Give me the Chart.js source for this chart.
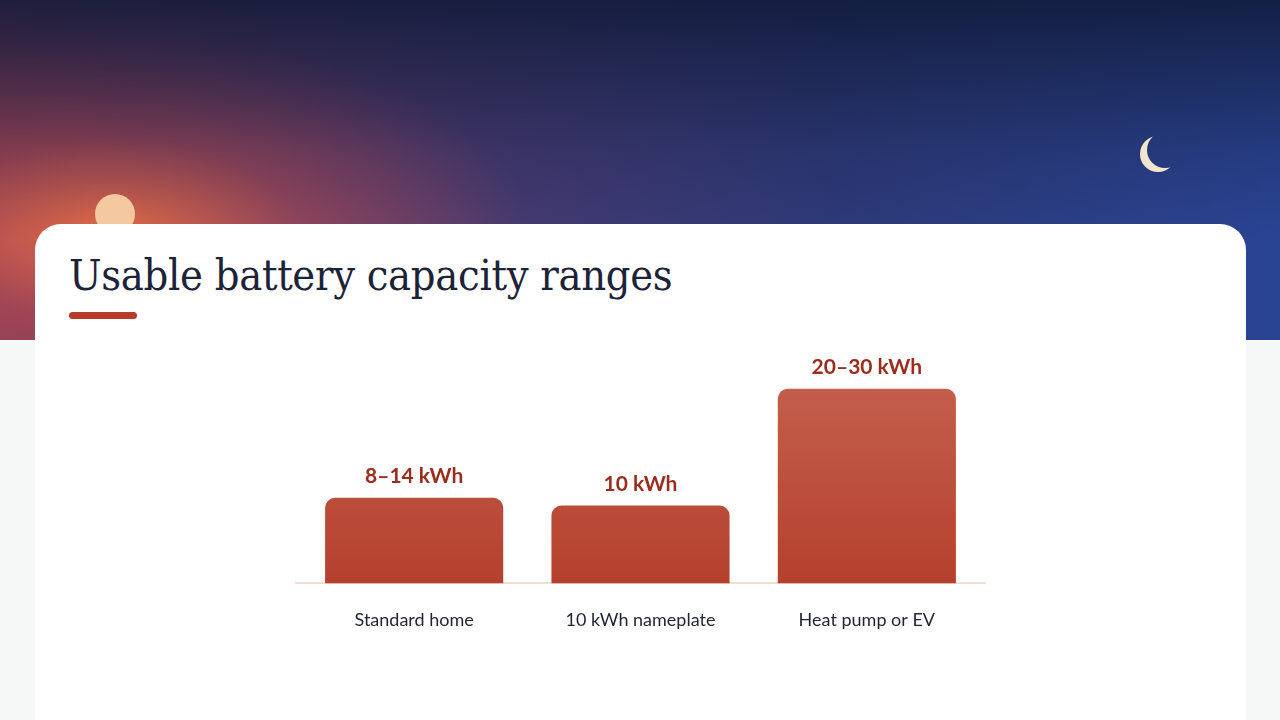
<!DOCTYPE html>
<html><head><meta charset="utf-8">
<script src="https://cdn.jsdelivr.net/npm/chart.js@4/dist/chart.umd.min.js"></script>
<style>
html,body{margin:0;width:1280px;height:720px;overflow:hidden;background:#f6f7f7;font-family:Lato,sans-serif}
#sky{position:absolute;left:0;top:0;width:1280px;height:340px;
background:radial-gradient(ellipse 420px 200px at 110px 230px,rgba(236,110,70,.95),rgba(200,80,80,.5) 45%,rgba(0,0,0,0) 100%),
linear-gradient(90deg,#7a3a5a 0%,#4a3a70 35%,#2e3a7a 65%,#2a4494 100%);}
#sky:before{content:"";position:absolute;inset:0;background:linear-gradient(180deg,rgba(15,25,55,.85) 0%,rgba(15,25,55,.2) 45%,rgba(0,0,0,0) 70%)}
#sun{position:absolute;left:95px;top:194px;width:40px;height:40px;border-radius:50%;background:#f4c9a0}
#moon{position:absolute;left:1147px;top:132px;width:36px;height:36px;border-radius:50%;box-shadow:-7px 4px 0 0 #f3e6cf}
#card{position:absolute;left:35px;top:224px;width:1211px;height:520px;background:#fff;border-radius:26px}
h1{position:absolute;left:69px;top:250px;margin:0;font:400 43px "DejaVu Serif Condensed","DejaVu Serif",serif;color:#1c2338;letter-spacing:-0.3px}
#bar{position:absolute;left:69px;top:312px;width:68px;height:7px;border-radius:4px;background:#b83a2b}
#wrap{position:absolute;left:301px;top:311px;width:679px;height:338px}
#axis{position:absolute;left:295px;top:582px;width:691px;height:2px;background:#f1ddd4}
</style></head><body>
<div id="sky"><div id="sun"></div><div id="moon"></div></div>
<div id="card"></div>
<h1>Usable battery capacity ranges</h1><div id="bar"></div>
<div id="axis"></div>
<div id="wrap"><canvas id="c"></canvas></div>
<script>
const categories=["Standard home","10 kWh nameplate","Heat pump or EV"];
const values=[11,10,25];
const valueLabels=["8–14 kWh","10 kWh","20–30 kWh"];
const labelPlugin={id:"vl",afterDatasetsDraw(ch){const c=ch.ctx;const m=ch.getDatasetMeta(0);
c.save();c.font="bold 21px Lato";c.fillStyle="#9a2d1e";c.textAlign="center";c.textBaseline="bottom";
m.data.forEach((b,i)=>c.fillText(valueLabels[i],b.x,b.y-11));c.restore();}};
new Chart(document.getElementById("c"),{type:"bar",
data:{labels:categories,datasets:[{data:values,
backgroundColor:(ctx)=>{const a=ctx.chart.chartArea;if(!a)return"#bd5040";const g=ctx.chart.ctx.createLinearGradient(0,a.top,0,a.bottom);g.addColorStop(0,"#c96a58");g.addColorStop(1,"#b5402d");return g;},
borderRadius:{topLeft:10,topRight:10},borderSkipped:"bottom",categoryPercentage:0.787,barPercentage:1}]},
options:{responsive:true,maintainAspectRatio:false,animation:false,
layout:{padding:0},
plugins:{legend:{display:false},tooltip:{enabled:false}},
scales:{y:{display:false,min:0,max:35},
x:{grid:{display:false},border:{display:true,color:"#f1ddd4",width:2},
ticks:{color:"#1f2433",font:{size:18,family:"Lato"},padding:18}}}},
plugins:[labelPlugin]});
</script></body></html>
